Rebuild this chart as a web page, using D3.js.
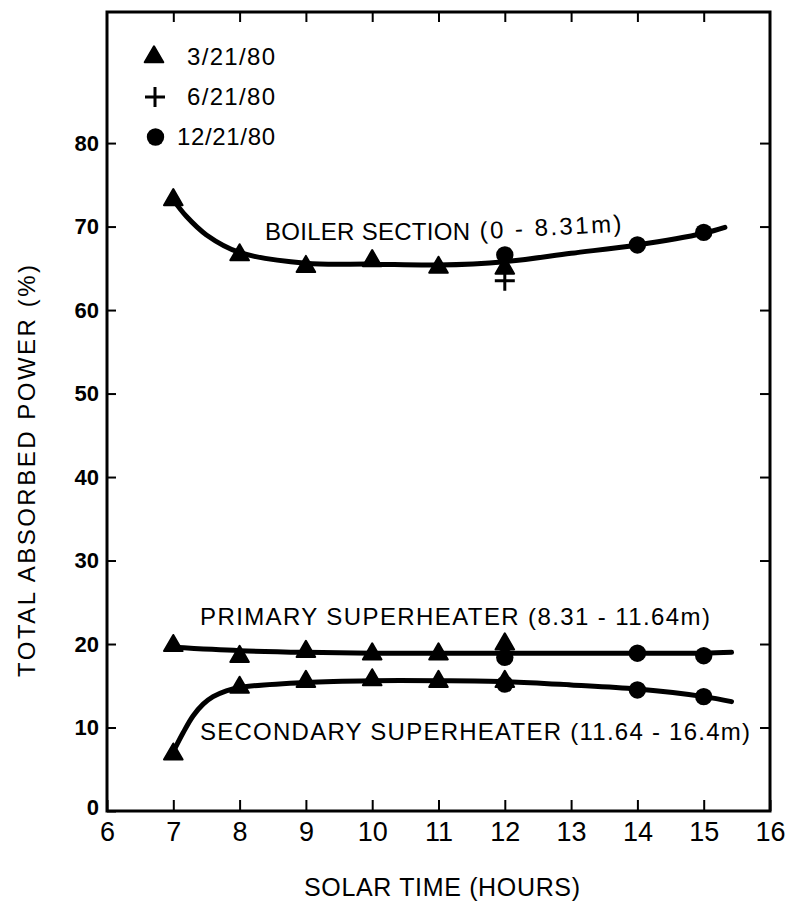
<!DOCTYPE html>
<html>
<head>
<meta charset="utf-8">
<script src="https://cdn.jsdelivr.net/npm/d3@7"></script>
<style>
  html, body { margin: 0; padding: 0; background: #fff; }
  svg { display: block; }
</style>
</head>
<body>
<svg id="chart" width="795" height="902"></svg>
<script>
// ---------------- DATA ----------------
const xTicks = [6, 7, 8, 9, 10, 11, 12, 13, 14, 15, 16];
const yTicks = [0, 10, 20, 30, 40, 50, 60, 70, 80];

const legendItems = ["3/21/80", "6/21/80", "12/21/80"];
const legendSymbols = ["triangle", "plus", "circle"];

// fitted curves
const boilerCurveX = [7, 7.2, 7.5, 8, 9, 10, 11, 12, 13, 14, 15, 15.32];
const boilerCurveY = [73.2, 71.2, 69.0, 66.9, 65.6, 65.5, 65.4, 65.8, 66.8, 67.8, 69.2, 69.9];
const primaryCurveX = [7, 8, 9, 10, 11, 12, 13, 14, 15, 15.42];
const primaryCurveY = [19.6, 19.2, 19.0, 18.9, 18.9, 18.9, 18.9, 18.9, 18.9, 19.0];
const secondaryCurveX = [7, 7.15, 7.3, 7.45, 7.6, 7.8, 8, 9, 10, 11, 12, 13, 14, 15, 15.42];
const secondaryCurveY = [7.1, 9.4, 11.4, 12.8, 13.7, 14.4, 14.8, 15.4, 15.6, 15.6, 15.5, 15.1, 14.6, 13.7, 13.1];

// measured points: 3/21/80 (triangles)
const marHours = [7, 8, 9, 10, 11, 12];
const marBoiler = [73.2, 66.6, 65.2, 65.9, 65.1, 65.0];
const marPrimary = [19.8, 18.5, 19.1, 18.8, 18.8, 20.0];
const marSecondary = [6.8, 14.8, 15.5, 15.7, 15.5, 15.5];

// 6/21/80 (plus)
const junHours = [12];
const junBoiler = [63.5];

// 12/21/80 (circles)
const decHours = [12, 14, 15];
const decBoiler = [66.6, 67.8, 69.3];
const decPrimary = [18.4, 18.9, 18.6];
const decSecondary = [15.2, 14.5, 13.7];

const labels = {
  boilerA: "BOILER SECTION",
  boilerB: "(0 - 8.31m)",
  primary: "PRIMARY SUPERHEATER (8.31 - 11.64m)",
  secondary: "SECONDARY SUPERHEATER (11.64 - 16.4m)"
};

// ---------------- CHART ----------------
(function () {
const svg = d3.select("#chart");
const X0 = 107, X1 = 770, Y0 = 811, Y1 = 12;
const x = d3.scaleLinear().domain([6, 16]).range([X0, X1]);
const y = d3.scaleLinear().domain([0, 95.7]).range([Y0, Y1]);

const font = "'Liberation Sans', Arial, Helvetica, sans-serif";

// frame
svg.append("rect")
  .attr("x", X0).attr("y", Y1)
  .attr("width", X1 - X0).attr("height", Y0 - Y1)
  .attr("fill", "none").attr("stroke", "#000").attr("stroke-width", 3);

// axes with inward ticks
const gBottom = svg.append("g").attr("transform", `translate(0,${Y0})`)
  .call(d3.axisBottom(x).tickValues(xTicks).tickSize(-11).tickPadding(11).tickFormat(d3.format("d")));
const gTop = svg.append("g").attr("transform", `translate(0,${Y1})`)
  .call(d3.axisTop(x).tickValues(xTicks.slice(1, -1)).tickSize(-10).tickFormat(""));
const gLeft = svg.append("g").attr("transform", `translate(${X0},0)`)
  .call(d3.axisLeft(y).tickValues(yTicks).tickSize(-9).tickPadding(8).tickFormat(d3.format("d")));
const gRight = svg.append("g").attr("transform", `translate(${X1},0)`)
  .call(d3.axisRight(y).tickValues(yTicks.slice(1)).tickSize(-10).tickFormat(""));

[gBottom, gTop, gLeft, gRight].forEach(g => {
  g.select(".domain").remove();
  g.selectAll(".tick line").attr("stroke", "#000").attr("stroke-width", 2);
});
gBottom.selectAll("text").attr("font-family", font).attr("font-size", 27).attr("fill", "#000");
gLeft.selectAll("text").attr("font-family", font).attr("font-size", 22).attr("font-weight", "bold").attr("fill", "#000");
gLeft.selectAll(".tick").filter(d => d === 0).select("text").attr("dy", "0.15em");

// axis titles
svg.append("text")
  .attr("x", 442).attr("y", 896)
  .attr("text-anchor", "middle")
  .attr("font-family", font).attr("font-size", 25)
  .attr("textLength", 276).attr("lengthAdjust", "spacing")
  .text("SOLAR TIME (HOURS)");
svg.append("text")
  .attr("transform", "translate(35,471) rotate(-90)")
  .attr("text-anchor", "middle")
  .attr("font-family", font).attr("font-size", 24)
  .attr("textLength", 412).attr("lengthAdjust", "spacing")
  .text("TOTAL ABSORBED POWER (%)");

// curves
const line = d3.line().x(d => x(d[0])).y(d => y(d[1])).curve(d3.curveCatmullRom.alpha(0.5));
[[boilerCurveX, boilerCurveY], [primaryCurveX, primaryCurveY], [secondaryCurveX, secondaryCurveY]]
  .forEach(([xs, ys]) => {
    svg.append("path")
      .datum(xs.map((v, i) => [v, ys[i]]))
      .attr("d", line)
      .attr("fill", "none").attr("stroke", "#000")
      .attr("stroke-width", 5).attr("stroke-linecap", "round");
  });

// symbols
const triPath = d3.symbol().type(d3.symbolTriangle).size(150)();
function drawSymbol(g, type, cx, cy) {
  if (type === "triangle") {
    g.append("path").attr("d", triPath)
      .attr("transform", `translate(${cx},${cy})`)
      .attr("fill", "#000").attr("stroke", "#000").attr("stroke-width", 2).attr("stroke-linejoin", "round");
  } else if (type === "circle") {
    g.append("circle").attr("cx", cx).attr("cy", cy).attr("r", 8.7).attr("fill", "#000");
  } else {
    g.append("path")
      .attr("d", `M${cx - 10},${cy}H${cx + 10}M${cx},${cy - 10}V${cy + 10}`)
      .attr("stroke", "#000").attr("stroke-width", 3);
  }
}
const marks = svg.append("g");
[marBoiler, marPrimary, marSecondary].forEach(vals =>
  vals.forEach((v, i) => drawSymbol(marks, "triangle", x(marHours[i]), y(v))));
junBoiler.forEach((v, i) => drawSymbol(marks, "plus", x(junHours[i]), y(v)));
[decBoiler, decPrimary, decSecondary].forEach(vals =>
  vals.forEach((v, i) => drawSymbol(marks, "circle", x(decHours[i]), y(v))));

// legend
const legY = [57, 97, 137];
const legSymX = [154, 155, 155.5];
const legTextX = [187, 187, 177];
const legTextW = [88, 88, 98];
legendItems.forEach((t, i) => {
  drawSymbol(svg, legendSymbols[i], legSymX[i], legY[i]);
  svg.append("text")
    .attr("x", legTextX[i]).attr("y", legY[i] + 8)
    .attr("font-family", font).attr("font-size", 24)
    .attr("textLength", legTextW[i]).attr("lengthAdjust", "spacing")
    .text(t);
});

// curve labels
svg.append("text").attr("x", 265).attr("y", 240)
  .attr("font-family", font).attr("font-size", 24)
  .attr("textLength", 205).attr("lengthAdjust", "spacing")
  .text(labels.boilerA);
svg.append("text").attr("transform", "translate(480,239) rotate(-3)")
  .attr("font-family", font).attr("font-size", 24)
  .attr("textLength", 142).attr("lengthAdjust", "spacing")
  .text(labels.boilerB);
svg.append("text").attr("x", 200).attr("y", 625)
  .attr("font-family", font).attr("font-size", 24)
  .attr("textLength", 510).attr("lengthAdjust", "spacing")
  .text(labels.primary);
svg.append("text").attr("x", 200).attr("y", 740)
  .attr("font-family", font).attr("font-size", 24)
  .attr("textLength", 550).attr("lengthAdjust", "spacing")
  .text(labels.secondary);
})();
</script>
</body>
</html>
